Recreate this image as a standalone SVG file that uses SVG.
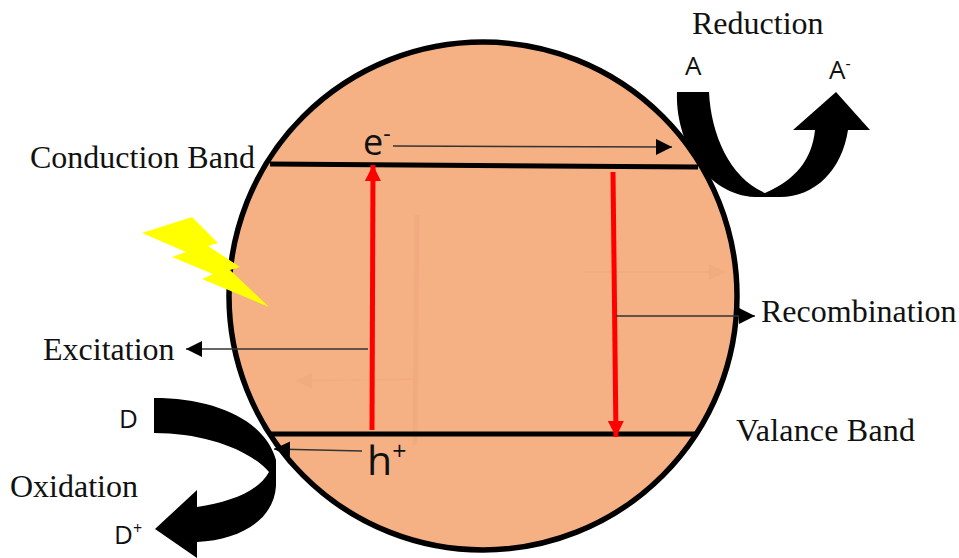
<svg xmlns="http://www.w3.org/2000/svg" width="959" height="558" viewBox="0 0 959 558">
<style>
.s{font-family:"Liberation Serif",serif;font-size:32px;fill:#111}
.o{font-family:"Open Sans","Noto Sans",sans-serif;fill:#111}
.band{stroke:#000;stroke-width:5;fill:none}
.red{stroke:#f00;stroke-width:5;fill:none}
.thin{stroke:#333;stroke-width:1.5;fill:none}
.faint{stroke:#f2ab80;stroke-width:1.5;fill:none}
</style>
<defs>
<marker id="k" markerUnits="userSpaceOnUse" markerWidth="18" markerHeight="18" refX="16" refY="8" orient="auto"><path d="M0 0L16 8L0 16Z" fill="#000"/></marker>
<marker id="r" markerUnits="userSpaceOnUse" markerWidth="18" markerHeight="18" refX="16" refY="8" orient="auto"><path d="M0 0L16 8L0 16Z" fill="#f00"/></marker>
<marker id="f" markerUnits="userSpaceOnUse" markerWidth="18" markerHeight="18" refX="16" refY="8" orient="auto"><path d="M0 0L16 8L0 16Z" fill="#f2ab80"/></marker>
</defs>
<g id="particle"><circle cx="483" cy="296" r="254" fill="#f5b183" stroke="#000" stroke-width="5.5"/></g>
<g id="connectors">
<path class="faint" style="stroke-width:5" d="M417 215L415 445"/>
<path class="faint" d="M415 379L296 381" marker-end="url(#f)"/>
<path class="faint" d="M583 272L725 272" marker-end="url(#f)"/>
<path class="band" d="M270 164L698 167"/>
<path class="band" d="M270 434L698 434"/>
<path class="red" d="M372 430L373 165" marker-end="url(#r)"/>
<path class="red" d="M613 172L616 437" marker-end="url(#r)"/>
<path class="thin" d="M393 146L672 147" marker-end="url(#k)"/>
<path class="thin" d="M368 349L186 349" marker-end="url(#k)"/>
<path class="thin" d="M616 316L755 316" marker-end="url(#k)"/>
<path class="thin" d="M362 451L274 449" marker-end="url(#k)"/>
</g>
<g id="reduction-arrow"><path d="M677 92L709 92C711 135 730 178 765 193C795 180 812 160 815 130L793 130L836 92L870 130L848 130C842 170 815 197 780 197L755 197C705 195 675 140 677 92Z" fill="#000"/></g>
<g id="oxidation-arrow"><path d="M154 398C215 398 265 420 276 460L276 486C274 520 240 540 197 542L197 558L155 529L197 490L197 507C230 502 258 492 269 472C250 450 205 433 154 433Z" fill="#000"/></g>
<g id="lightning"><path d="M142 233L192 217L218 243L208 246L240 267L230 270L269 307L202 279L213 274L172 257L186 252Z" fill="#ff0"/></g>
<g id="labels">
<text class="s" x="692" y="34">Reduction</text>
<text class="s" x="30" y="168">Conduction Band</text>
<text class="s" x="43" y="360">Excitation</text>
<text class="s" x="761" y="322">Recombination</text>
<text class="s" x="736" y="441" textLength="179">Valance Band</text>
<text class="s" x="10" y="497">Oxidation</text>
<text class="o" x="685" y="75" font-size="26">A</text>
<text class="o" x="829" y="79" font-size="26">A<tspan font-size="16" dy="-10">-</tspan></text>
<text class="o" x="119" y="428" font-size="26">D</text>
<text class="o" x="114" y="544" font-size="26">D<tspan font-size="16" dy="-10">+</tspan></text>
<text class="o" x="363" y="155" font-size="36">e<tspan font-size="23" dy="-13">-</tspan></text>
<text class="o" x="367" y="475" font-size="41">h<tspan font-size="25" dy="-15">+</tspan></text>
</g>
</svg>
